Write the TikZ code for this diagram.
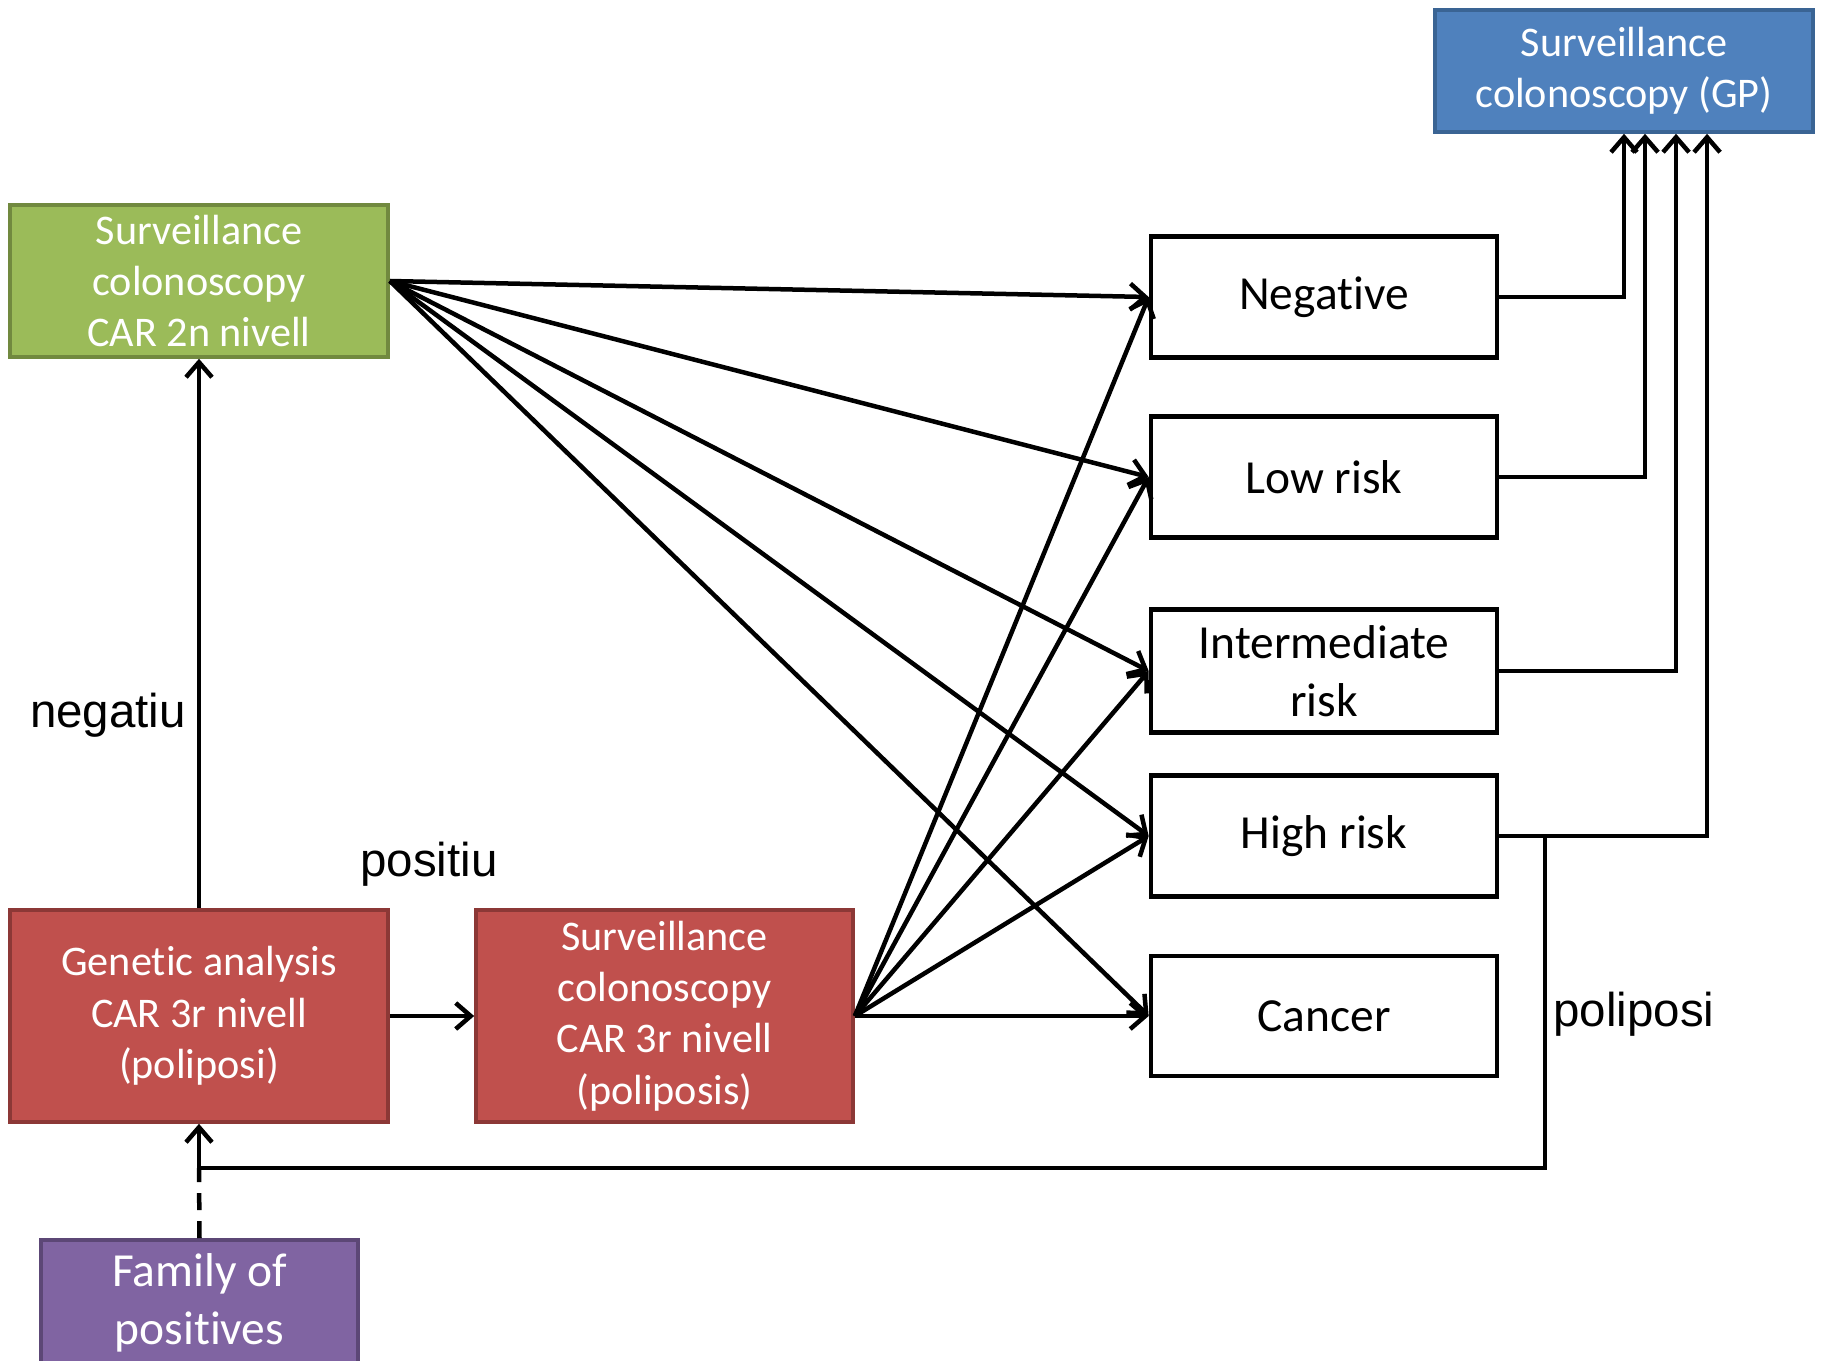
\documentclass[tikz,border=0pt]{standalone}
\usepackage{fontspec}
\setmainfont{Carlito}[Ligatures=NoCommon, Contextuals=NoAlternate]
\newfontfamily\labelfont{Liberation Sans}
\usetikzlibrary{arrows.meta}

\definecolor{gpblue}{HTML}{4F81BD}
\definecolor{gpblueline}{HTML}{3A6494}
\definecolor{cargreen}{HTML}{9BBB59}
\definecolor{cargreenline}{HTML}{71893F}
\definecolor{carred}{HTML}{C0504D}
\definecolor{carredline}{HTML}{8C3836}
\definecolor{famviolet}{HTML}{8064A2}
\definecolor{famvioletline}{HTML}{5C4776}

\tikzset{
    colbox/.style={draw=#1line, fill=#1, line width=0.035cm, text=white,
        align=center, inner sep=0pt, minimum width=3.78cm,
        font=\fontsize{12}{14.6}\selectfont},
    riskbox/.style={draw=black, fill=white, line width=0.045cm, align=center,
        inner sep=0pt, minimum width=3.46cm, minimum height=1.21cm,
        font=\fontsize{13.5}{16.4}\selectfont},
    arr/.style={line width=0.045cm, -{Straight Barb[length=1.5mm,width=2.6mm,line width=0.045cm]}},
    lbl/.style={font=\labelfont\fontsize{13.5}{16}\selectfont}
}

\begin{document}
\begin{tikzpicture}[x=0.01cm, y=-0.01cm]
    \useasboundingbox (0,0) rectangle (1828,1360);
    \clip (0,0) rectangle (1828,1360);

    % --- coloured boxes ---
    \node[colbox=gpblue, minimum height=1.22cm] (gp) at (1624,71)
        {Surveillance\\colonoscopy (GP)};
    \node[colbox=cargreen, minimum height=1.52cm] (car2) at (199,281)
        {Surveillance\\colonoscopy\\CAR 2n nivell};
    \node[colbox=carred, minimum height=2.12cm] (gen) at (199,1016)
        {Genetic analysis\\CAR 3r nivell\\(poliposi)};
    \node[colbox=carred, minimum width=3.77cm, minimum height=2.12cm] (car3) at (664.5,1016)
        {Surveillance\\colonoscopy\\CAR 3r nivell\\(poliposis)};
    \node[colbox=famviolet, minimum width=3.17cm, minimum height=1.26cm,
        font=\fontsize{13.5}{16.6}\selectfont] (fam) at (199.5,1303)
        {Family of\\positives};

    % --- results ---
    \node[riskbox] (neg) at (1324,297) {Negative};
    \node[riskbox] (low) at (1324,477) {Low risk};
    \node[riskbox, minimum height=1.23cm] (inter) at (1324,671) {Intermediate\\risk};
    \node[riskbox] (high) at (1324,836) {High risk};
    \node[riskbox, minimum height=1.20cm] (cancer) at (1324,1016) {Cancer};

    % --- fans from both colonoscopies ---
    \foreach \res in {neg,low,inter,high,cancer}{
        \draw[arr] (car2.east) -- (\res.west);
        \draw[arr] (car3.east) -- (\res.west);
    }

    % --- genetic analysis ---
    \draw[arr] (gen.north) -- (car2.south);
    \draw[arr] (gen.east) -- (car3.west);
    \node[lbl] (negatiu) at (108,715) {negatiu};
    \node[lbl] (positiu) at (429,864) {positiu};

    % --- back to GP ---
    \draw[arr] (neg.east) -| (gp.south);
    \draw[arr] (low.east) -| ([xshift=0.21cm]gp.south);
    \draw[arr] (inter.east) -| ([xshift=0.52cm]gp.south);
    \draw[arr] (high.east) -| ([xshift=0.83cm]gp.south);

    % --- poliposi loop ---
    \coordinate (split) at (1545,836);
    \coordinate (join) at (199,1168);
    \draw[arr] (split) |- (join) -- (gen.south);
    \draw[line width=0.045cm, dash pattern=on 0.17cm off 0.11cm] (fam.north) -- (join);
    \node[lbl] (poliposi) at (1634,1014) {poliposi};
\end{tikzpicture}
\end{document}
